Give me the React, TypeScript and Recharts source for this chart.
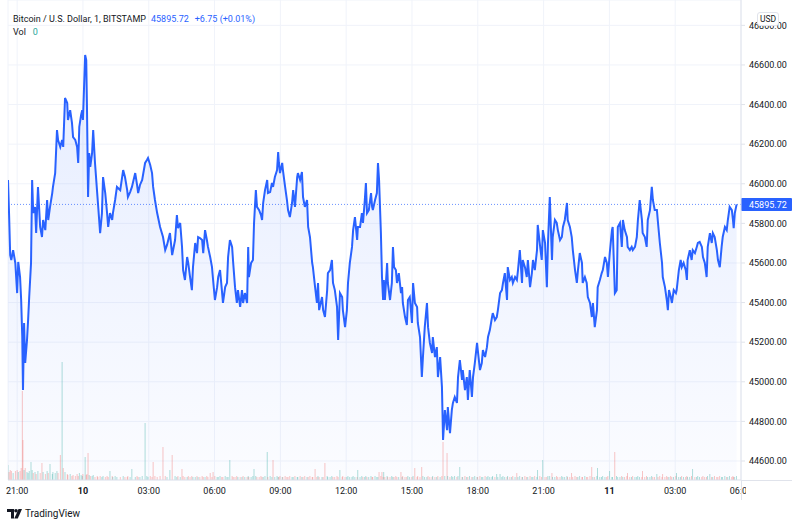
import React from 'react';
import { ComposedChart, Area, Bar, Cell, XAxis, YAxis, CartesianGrid, ReferenceLine } from 'recharts';

// minutes since 21:00 on day 9 (1-minute BTCUSD, sampled)
const minutes = [
  -25,-22,-19,-16,-11,-5,0,3,8,11,
  14,16,19,22,27,30,33,38,41,44,
  49,52,57,63,68,71,77,82,85,90,
  96,98,104,109,112,118,123,126,131,137,
  139,145,150,153,159,164,167,170,175,178,
  180,186,189,191,194,197,200,205,208,213,
  219,221,227,232,235,241,246,249,254,260,
  262,268,273,282,290,295,301,303,309,314,
  323,328,331,336,342,350,355,358,364,369,
  372,377,383,391,399,405,410,418,424,432,
  437,440,
  446,451,454,459,465,468,473,478,481,487,
  492,495,500,506,509,514,519,522,528,533,
  536,541,547,550,555,560,563,569,574,577,
  582,588,591,596,601,604,610,615,618,623,
  629,632,634,640,645,648,653,656,662,667,
  670,673,678,684,686,692,697,700,705,711,
  714,716,719,725,727,733,738,741,746,752,
  755,760,766,768,774,779,782,787,793,796,
  801,807,809,815,820,823,826,834,837,842,
  848,850,856,861,864,869,875,878,883,889,
  891,897,902,905,910,916,919,924,930,932,
  938,943,946,951,954,957,962,968,971,973,
  979,984,987,990,995,998,1001,1003,1006,1012,
  1014,1020,1025,1028,1031,1036,1039,1044,1050,1053,
  1055,1061,1066,1069,1074,1080,1083,1088,1094,1096,
  1102,1107,1110,1115,1121,1124,1129,1135,1137,1143,
  1148,1151,1157,1162,1165,1170,1176,1178,1184,1189,
  1192,1197,1203,1206,1211,1217,1219,1225,1230,1233,
  1238,1244,1247,1252,1258,1260,1266,1271,1274,1280,
  1285,1288,1293,1299,1301,1307,1312,1315,1321,1326,
  1329,1334,1340,1342,1348,1353,1356,1362,1367,1370,
  1375,1381,1383,1389,1394,1397,1403,1408,1411,1416,
  1422,1424,1430,1435,1438,1444,1449,1452,
  1457,1463,1465,1471,1476,1479,1485,1490,1493,1498,
  1504,1506,1512,1517,1520,1526,1531,1534,1539,1545,
  1547,1553,1558,1561,1567,1572,1575,1580,1586,1588,
  1594,1599,1602,1608,1613,1616,1621,1627,1629,1635,
  1640,1643,1649,1654,1657,1662,1668,1670,1676,1681,
  1684,1690,1695,1698,1703,1709,1711,1717,1722,1725,
  1731,1736,1739,1744,1750,1753,1758,1764,1766,1772,
  1777,1780,1783,1788,1791,1796,1802,1804,1810,1815,
  1818,1823,1829,1832,1834,1840,1845,1848,1854,1859,
  1862,1867,1873,1876,1881,1886,1889,1895,1900,1903,
  1908,1914,1917,1922,1927,1930,1936,1941,1944,1949,
  1955,1958,1960,1963,1968,
];

const prices = [
  46019,45842,45640,45615,45665,45600,45448,45605,45529,45413,
  45226,44958,45297,45095,45211,45312,45428,45600,46019,45852,
  45883,45751,45984,45782,45731,45817,45766,45918,45817,45883,
  45953,45984,46054,46271,46221,46186,46221,46186,46433,46408,
  46322,46372,46307,46236,46221,46186,46105,46287,46347,46372,
  46322,46650,46625,46388,45933,46155,46085,46155,46271,46105,
  45953,45903,45751,45852,46034,45953,45852,45782,45852,45817,
  45852,45918,45984,45968,46069,46034,45968,45933,45958,45984,
  46054,45994,45953,45994,46019,46105,46120,46130,46095,46054,
  45984,45918,45852,45782,45731,45665,45691,45751,45640,45716,
  45842,45776,
  45802,45681,45564,45514,45630,45600,45529,45463,45579,45701,
  45650,45731,45726,45716,45650,45766,45716,45681,45630,45579,
  45514,45413,45478,45529,45564,45463,45398,45478,45499,45630,
  45716,45681,45600,45478,45398,45463,45378,45463,45398,45448,
  45398,45681,45529,45600,45615,45802,45968,45883,45867,45842,
  45817,45903,45968,46019,45953,45958,46004,45984,46034,46069,
  46160,46105,46054,46105,46069,45984,45918,45867,45832,45903,
  45968,45883,46034,46054,46019,46059,45933,45883,45918,45782,
  45731,45600,45579,45478,45398,45499,45362,45428,45362,45327,
  45463,45549,45564,45615,45499,45463,45378,45211,45448,45428,
  45362,45276,45362,45499,45600,45681,45766,45832,45716,45782,
  45782,45852,45802,45918,46004,45852,45867,45953,45883,45867,
  45918,45953,46105,46019,45751,45529,45413,45514,45413,45600,
  45499,45413,45499,45681,45579,45564,45499,45549,45448,45478,
  45398,45327,45287,45413,45428,45297,45499,45398,45378,45297,
  45226,45024,45125,45276,45398,45276,45196,45145,45226,45125,
  45175,45024,45125,44973,44706,44857,44756,44872,44741,44857,
  44893,44923,44893,45024,45110,45009,45059,44958,45024,44908,
  45059,44923,45024,45095,45196,45160,45059,45095,45160,45125,
  45175,45226,45261,45327,45347,45312,45327,45362,45448,45463,
  45499,45549,45413,45579,45514,45529,45499,45529,45514,45564,
  45665,45499,45615,45579,45529,45615,45478,45549,45615,45564,
  45665,45792,45691,45615,45766,45701,45478,45701,
  45933,45615,45731,45817,45802,45766,45716,45731,45782,45817,
  45903,45817,45782,45731,45665,45564,45499,45564,45650,45600,
  45499,45529,45499,45428,45398,45327,45398,45276,45362,45478,
  45514,45549,45564,45630,45600,45529,45650,45766,45782,45448,
  45463,45782,45802,45681,45817,45766,45731,45681,45665,45681,
  45665,45681,45731,45817,45918,45817,45751,45731,45681,45817,
  45867,45984,45918,45867,45867,45802,45701,45600,45529,45478,
  45413,45362,45463,45428,45398,45463,45448,45463,45564,45615,
  45579,45600,45564,45514,45615,45665,45615,45665,45650,45681,
  45701,45706,45681,45630,45600,45529,45681,45751,45701,45751,
  45731,45665,45615,45579,45681,45731,45782,45766,45817,45883,
  45867,45817,45776,45852,45895.72,
];

const volumes = [
  15,8,10,9,7,9,10,8,9,12,
  89,40,10,12,8,7,9,18,10,7,
  8,6,9,7,17,8,6,9,7,16,
  6,8,7,9,7,25,118,12,8,6,
  5,6,4,5,4,6,4,7,5,4,
  6,23,5,6,27,5,4,4,5,3,
  4,3,4,3,4,3,4,3,9,4,
  3,4,3,3,4,3,3,4,3,11,
  3,4,3,3,4,57,4,3,4,3,
  18,4,3,4,33,4,3,10,25,4,
  3,4,
  3,11,4,3,3,4,3,4,3,3,
  4,3,3,4,3,3,4,3,7,3,
  8,4,3,3,4,3,3,4,3,3,
  20,4,3,3,4,3,3,3,4,3,
  3,4,3,3,4,11,4,3,3,4,
  3,3,4,28,3,4,3,20,3,4,
  3,3,4,3,3,4,3,3,4,3,
  3,4,3,3,4,3,3,4,3,3,
  4,3,3,11,3,4,3,3,3,17,
  4,3,3,4,3,3,4,3,10,3,
  4,3,3,4,3,3,4,3,3,10,
  3,4,3,3,4,3,3,4,3,3,
  4,3,3,8,4,8,3,8,3,4,
  3,3,4,3,3,4,3,3,8,3,
  4,3,3,4,3,3,4,12,3,4,
  3,13,4,3,3,4,3,3,4,3,
  3,4,3,4,38,4,27,4,3,4,
  3,4,3,4,13,3,3,4,3,3,
  4,3,3,4,3,3,4,3,3,4,
  3,4,3,3,4,3,6,3,6,3,
  4,3,3,4,3,3,4,3,7,3,
  4,3,3,4,3,3,4,3,3,4,
  3,10,4,3,20,3,3,4,
  4,7,3,3,4,3,3,4,3,3,
  4,3,3,7,3,4,3,3,4,3,
  3,4,3,3,4,13,3,3,4,12,
  3,3,4,3,3,4,9,3,3,28,
  4,3,3,4,3,3,4,7,3,3,
  4,3,3,4,3,3,9,3,4,3,
  3,4,3,3,6,3,4,3,6,3,
  4,3,3,4,3,3,4,7,3,3,
  4,3,3,4,3,3,4,11,3,3,
  4,3,3,4,3,3,4,6,3,3,
  4,3,3,4,3,3,4,3,3,4,
  3,4,3,3,4,
];

const timeTicks = [0, 180, 360, 540, 720, 900, 1080, 1260, 1440, 1620, 1800, 1980];
const timeLabels = ['21:00', '10', '03:00', '06:00', '09:00', '12:00', '15:00', '18:00', '21:00', '11', '03:00', '06:00'];
const dayLabels = ['10', '11'];
const priceTicks = [44600, 44800, 45000, 45200, 45400, 45600, 45800, 46000, 46200, 46400, 46600, 46800];
const priceDomain = [44504, 46928];
const timeDomain = [-25, 1980];
const title = 'Bitcoin / U.S. Dollar, 1, BITSTAMP';
const lastPrice = 45895.72;
const changeText = '+6.75 (+0.01%)';
const lastVolume = '0';

const W = 800;
const H = 527;
const CHART_H = 500;
const X_AXIS_H = 20;
const Y_AXIS_W = 59;
const PLOT_RIGHT = W - Y_AXIS_W;
const PLOT_BOTTOM = CHART_H - X_AXIS_H;
const FONT = 'Roboto, "Liberation Sans", sans-serif';
const TEXT = '#131722';
const BLUE = '#2962ff';
const BORDER = '#e0e3eb';

const data = minutes.map((t, i) => ({
  t,
  price: prices[i],
  vol: volumes[i] ?? 3,
  up: i === 0 ? true : prices[i] >= prices[i - 1],
}));

function TimeTick(props: any) {
  const { x, y, payload, index } = props;
  const i = timeTicks.indexOf(payload.value);
  const label = timeLabels[i] ?? '';
  const bold = dayLabels.includes(label) && (i === 1 || i === 9);
  const id = `time-clip-${index}`;
  return (
    <g>
      <defs>
        <clipPath id={id}>
          <rect x={0} y={0} width={PLOT_RIGHT + 5} height={H} />
        </clipPath>
      </defs>
      <text
        x={x}
        y={y}
        dy="0.71em"
        textAnchor="middle"
        fontSize={9}
        fill={TEXT}
        fontWeight={bold ? 700 : 400}
        clipPath={`url(#${id})`}
      >
        {label}
      </text>
    </g>
  );
}

function PriceTag(props: any) {
  const vb = props.viewBox || {};
  const x = (vb.x ?? 0) + (vb.width ?? 0);
  const y = vb.y ?? 0;
  return (
    <g>
      <rect x={x} y={y - 6.5} width={51} height={13} rx={1} fill={BLUE} />
      <text x={x + 8} y={y} dy="0.355em" fontSize={9} fill="#ffffff">
        {lastPrice.toFixed(2)}
      </text>
    </g>
  );
}

function Logo() {
  return (
    <div style={{ position: 'absolute', left: 7, top: 508, display: 'flex', alignItems: 'center', color: TEXT }}>
      <svg width={15} height={10} viewBox="0 0 15 10">
        <path d="M0 0h7v9.5H4V3H0z" fill={TEXT} />
        <circle cx={9} cy={1.8} r={1.8} fill={TEXT} />
        <path d="M11.5 0h3.5l-4.2 9.5H7.3z" fill={TEXT} />
      </svg>
      <span style={{ marginLeft: 3, fontSize: 10, lineHeight: '12px', fontFamily: FONT }}>TradingView</span>
    </div>
  );
}

export default function App() {
  return (
    <div style={{ position: 'absolute', left: 0, top: 0, width: W, height: H, background: '#ffffff', fontFamily: FONT, overflow: 'hidden' }}>
      <ComposedChart width={W} height={CHART_H} data={data} margin={{ top: 0, right: 0, bottom: 0, left: 8 }}>
        <defs>
          <linearGradient id="areaFill" x1="0" y1="0" x2="0" y2="1">
            <stop offset="0%" stopColor={BLUE} stopOpacity={0.2} />
            <stop offset="100%" stopColor={BLUE} stopOpacity={0.03} />
          </linearGradient>
        </defs>
        <CartesianGrid stroke="#f0f3fa" strokeWidth={1} />
        <XAxis
          dataKey="t"
          type="number"
          domain={timeDomain}
          ticks={timeTicks}
          interval={0}
          allowDataOverflow
          height={X_AXIS_H}
          tickLine={false}
          axisLine={{ stroke: BORDER }}
          tick={<TimeTick />}
        />
        <YAxis
          orientation="right"
          width={Y_AXIS_W}
          type="number"
          domain={priceDomain}
          ticks={priceTicks}
          interval={0}
          allowDataOverflow
          axisLine={{ stroke: BORDER }}
          tickLine={{ stroke: BORDER }}
          tickSize={4}
          tickMargin={4}
          tick={{ fontSize: 9, fill: TEXT }}
          tickFormatter={(v: number) => v.toFixed(2)}
        />
        <YAxis yAxisId="vol" hide domain={[0, 480]} />
        <Bar dataKey="vol" yAxisId="vol" barSize={1} isAnimationActive={false}>
          {data.map((d, i) => (
            <Cell key={i} fill={d.up ? 'rgba(38,166,154,0.55)' : 'rgba(239,83,80,0.5)'} />
          ))}
        </Bar>
        <Area
          type="linear"
          dataKey="price"
          stroke={BLUE}
          strokeWidth={2}
          fill="url(#areaFill)"
          dot={false}
          activeDot={false}
          isAnimationActive={false}
        />
        <ReferenceLine
          y={lastPrice}
          stroke={BLUE}
          strokeOpacity={0.7}
          strokeDasharray="1 2"
          label={<PriceTag />}
        />
      </ComposedChart>

      {/* pane borders that continue past the axes */}
      <div style={{ position: 'absolute', left: PLOT_RIGHT, top: PLOT_BOTTOM, width: 51, height: 1, background: BORDER }} />
      <div style={{ position: 'absolute', left: PLOT_RIGHT, top: PLOT_BOTTOM, width: 1, height: X_AXIS_H, background: BORDER }} />

      <div style={{ position: 'absolute', left: 13, top: 13, fontSize: 9, lineHeight: '12px', color: TEXT, whiteSpace: 'nowrap' }}>
        <span>{title}</span>
        <span style={{ color: BLUE, marginLeft: 5 }}>{lastPrice.toFixed(2)}</span>
        <span style={{ color: BLUE, marginLeft: 6 }}>{changeText}</span>
      </div>
      <div style={{ position: 'absolute', left: 13, top: 26, fontSize: 9, lineHeight: '12px', color: TEXT, whiteSpace: 'nowrap' }}>
        <span>Vol</span>
        <span style={{ color: '#26a69a', marginLeft: 7 }}>{lastVolume}</span>
      </div>
      <div
        style={{
          position: 'absolute',
          left: 757,
          top: 12,
          width: 20,
          height: 12,
          border: `1px solid ${BORDER}`,
          borderRadius: 3,
          background: '#ffffff',
          fontSize: 8.5,
          lineHeight: '12px',
          textAlign: 'center',
          color: TEXT,
        }}
      >
        USD
      </div>
      <Logo />
    </div>
  );
}
